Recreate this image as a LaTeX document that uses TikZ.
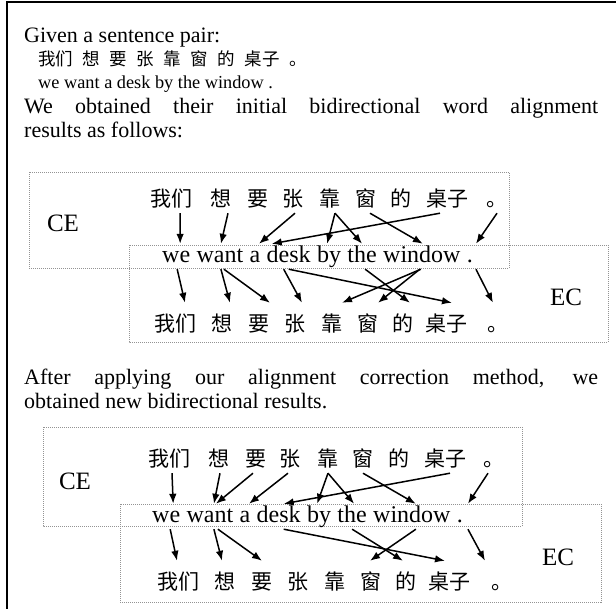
\documentclass[tikz,border=0pt]{standalone}
\usepackage{fontspec}
\setmainfont{Liberation Serif}
\newfontfamily\cjk{Noto Sans CJK SC}
\usetikzlibrary{arrows.meta,positioning}
\newcommand\cg{\hspace{9.5pt}}
\newcommand\alnarrow[4]{\draw[arr] ([xshift=#2pt]#1.south) -- ([xshift=#4pt]#3.north);}
\begin{document}
\begin{tikzpicture}[x=1pt,y=-1pt,
  en/.style={inner sep=0pt, font=\fontsize{24}{28}\selectfont, text height=18pt, text depth=7pt, anchor=base west},
  enn/.style={en, base right=6pt of #1},
  cntop/.style={inner sep=0pt, font=\cjk\fontsize{21}{24}\selectfont, text height=18pt, text depth=7pt, anchor=base},
  cnbot/.style={inner sep=0pt, font=\cjk\fontsize{21}{24}\selectfont, text height=28pt, text depth=3pt, anchor=base},
  lab/.style={inner sep=0pt, font=\fontsize{25}{28}\selectfont, anchor=base},
  hd/.style={inner sep=0pt, anchor=base west, font=\fontsize{22}{26}\selectfont},
  box/.style={draw=gray!85, line width=1pt, dash pattern=on 1pt off 1pt},
  arr/.style={-{Latex[length=10pt,width=7.5pt]}, line width=1.5pt},
]
\useasboundingbox (0,0) rectangle (616,608);
\draw[line width=2.5pt] (7,612) -- (7,2) -- (620,2);

% header text
\node[hd] (h1) at (24,42) {Given a sentence pair:};
\node[hd, font=\cjk\fontsize{17.5}{20}\selectfont] (h2) at (38,65) {我们\cg 想\cg 要\cg 张\cg 靠\cg 窗\cg 的\cg 桌子\cg 。};
\node[hd, font=\fontsize{18.3}{22}\selectfont] (h3) at (38,88) {we want a desk by the window .};
\node[hd] (h4) at (24,113) {\makebox[574pt][s]{We obtained their initial bidirectional word alignment}};
\node[hd] (h5) at (24,137) {results as follows:};
\node[hd] (h6) at (24,384) {\makebox[574pt][s]{After applying our alignment correction method, we}};
\node[hd] (h7) at (24,408) {obtained new bidirectional results.};

% boxes
\draw[box] (29,172) rectangle (509,268);
\draw[box] (129,245) rectangle (608,342);
\draw[box] (43,427) rectangle (522,526);
\draw[box] (120,504) rectangle (601,602);

% labels
\node[lab] (ce1) at (63,231) {CE};
\node[lab] (ec1) at (566,305) {EC};
\node[lab] (ce2) at (75,489) {CE};
\node[lab] (ec2) at (558,565) {EC};

% group 1 top Chinese
\node[cntop] (a1) at (171,206) {我们};
\node[cntop] (a2) at (221,206) {想};
\node[cntop] (a3) at (258,206) {要};
\node[cntop] (a4) at (293,206) {张};
\node[cntop] (a5) at (330,206) {靠};
\node[cntop] (a6) at (366,206) {窗};
\node[cntop] (a7) at (401,206) {的};
\node[cntop] (a8) at (447,206) {桌子};
\node[cntop] (a9) at (497,206) {。};
% group 1 English
\node[en] (e1) at (162,262) {we};
\node[enn=e1] (e2) {want};
\node[enn=e2] (e3) {a};
\node[enn=e3] (e4) {desk};
\node[enn=e4] (e5) {by};
\node[enn=e5] (e6) {the};
\node[enn=e6] (e7) {window};
\node[enn=e7] (e8) {.};
% group 1 bottom Chinese
\node[cnbot] (b1) at (175,331) {我们};
\node[cnbot] (b2) at (222,331) {想};
\node[cnbot] (b3) at (259,331) {要};
\node[cnbot] (b4) at (295,331) {张};
\node[cnbot] (b5) at (332,331) {靠};
\node[cnbot] (b6) at (368,331) {窗};
\node[cnbot] (b7) at (403,331) {的};
\node[cnbot] (b8) at (446,331) {桌子};
\node[cnbot] (b9) at (498,331) {。};

% group 2 top Chinese
\node[cntop] (c1) at (169,466) {我们};
\node[cntop] (c2) at (219,466) {想};
\node[cntop] (c3) at (256,466) {要};
\node[cntop] (c4) at (290,466) {张};
\node[cntop] (c5) at (327.5,466) {靠};
\node[cntop] (c6) at (363,466) {窗};
\node[cntop] (c7) at (399,466) {的};
\node[cntop] (c8) at (445.5,466) {桌子};
\node[cntop] (c9) at (494,466) {。};
% group 2 English
\node[en] (f1) at (152,522) {we};
\node[enn=f1] (f2) {want};
\node[enn=f2] (f3) {a};
\node[enn=f3] (f4) {desk};
\node[enn=f4] (f5) {by};
\node[enn=f5] (f6) {the};
\node[enn=f6] (f7) {window};
\node[enn=f7] (f8) {.};
% group 2 bottom Chinese
\node[cnbot] (d1) at (178,589) {我们};
\node[cnbot] (d2) at (225,589) {想};
\node[cnbot] (d3) at (262,589) {要};
\node[cnbot] (d4) at (298,589) {张};
\node[cnbot] (d5) at (335,589) {靠};
\node[cnbot] (d6) at (371,589) {窗};
\node[cnbot] (d7) at (406,589) {的};
\node[cnbot] (d8) at (449,589) {桌子};
\node[cnbot] (d9) at (502,589) {。};

% CE1
\alnarrow{a1}{9}{e1}{4}
\alnarrow{a2}{7}{e2}{1}
\alnarrow{a4}{2}{e3}{4}
\alnarrow{a5}{5}{e5}{-2}
\alnarrow{a5}{5}{e6}{0}
\alnarrow{a6}{4}{e7}{1}
\alnarrow{a8}{-7}{e4}{-17}
\alnarrow{a9}{0}{e8}{6}
% EC1
\alnarrow{e1}{1}{b1}{10}
\alnarrow{e2}{1}{b2}{8}
\alnarrow{e2}{4}{b3}{11}
\alnarrow{e4}{-5}{b4}{7}
\alnarrow{e4}{0}{b8}{6}
\alnarrow{e6}{3}{b7}{7}
\alnarrow{e7}{-1}{b5}{10}
\alnarrow{e7}{-2}{b6}{10}
\alnarrow{e8}{6}{b9}{-5}
% CE2
\alnarrow{c1}{3}{f1}{7}
\alnarrow{c2}{1}{f2}{4}
\alnarrow{c3}{-3}{f2}{6}
\alnarrow{c4}{-2}{f3}{4}
\alnarrow{c5}{0.5}{f5}{-2}
\alnarrow{c5}{0.5}{f6}{2}
\alnarrow{c6}{0}{f7}{4}
\alnarrow{c8}{4.5}{f4}{5}
\alnarrow{c9}{-6}{f8}{8}
% EC2
\alnarrow{f1}{4}{d1}{-1}
\alnarrow{f2}{4}{d2}{-3}
\alnarrow{f2}{8}{d3}{0}
\alnarrow{f4}{5}{d8}{-4}
\alnarrow{f6}{0}{d7}{-3}
\alnarrow{f7}{4}{d6}{-1}
\alnarrow{f8}{8}{d9}{-17}
\end{tikzpicture}
\end{document}
